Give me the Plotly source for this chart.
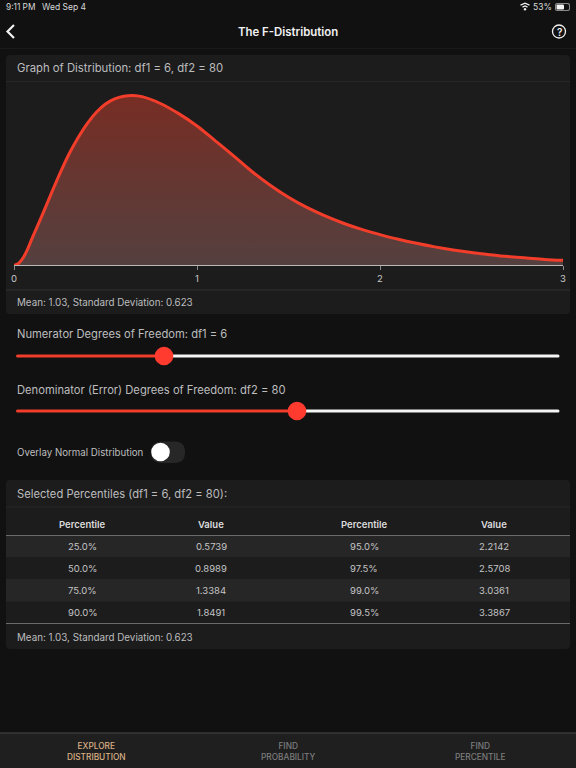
import plotly.graph_objects as go

W, H = 576, 768

# density curve
f_x = [0, 0.025, 0.05, 0.075, 0.1, 0.15, 0.2, 0.25, 0.3, 0.35, 0.4, 0.45, 0.5, 0.55, 0.6, 0.65, 0.7, 0.8, 0.9, 1.0,
       1.1, 1.2, 1.3, 1.4, 1.5, 1.6, 1.7, 1.8, 1.9, 2.0, 2.1, 2.2, 2.3, 2.4, 2.5, 2.6, 2.7, 2.8, 2.9, 3.0]
f_y = [0, 0.008, 0.032, 0.070, 0.116, 0.205, 0.297, 0.387, 0.470, 0.540, 0.600, 0.648, 0.683, 0.705, 0.716, 0.719,
       0.714, 0.685, 0.642, 0.590, 0.527, 0.463, 0.397, 0.339, 0.288, 0.245, 0.209, 0.178, 0.152, 0.130, 0.110,
       0.093, 0.078, 0.065, 0.054, 0.045, 0.037, 0.031, 0.025, 0.021]
x_ticks = [0, 1, 2, 3]

# percentile table
pct_left = ['25.0%', '50.0%', '75.0%', '90.0%']
val_left = ['0.5739', '0.8989', '1.3384', '1.8491']
pct_right = ['95.0%', '97.5%', '99.0%', '99.5%']
val_right = ['2.2142', '2.5708', '3.0361', '3.3867']
table_head = ['Percentile', 'Value', 'Percentile', 'Value']

tab_labels = ['EXPLORE<br>DISTRIBUTION', 'FIND<br>PROBABILITY', 'FIND<br>PERCENTILE']

PAGE = '#111112'
CARD = '#1c1c1d'
BAND = '#262627'
RED = '#f23d2b'
FONT = 'Inter'
TEXT_X = 16.3


def px(x):
    return x / W


def py(y):
    return 1 - y / H


shapes = []
annotations = []


def rect(x0, y0, x1, y1, color, layer='below'):
    shapes.append(dict(type='rect', xref='paper', yref='paper', x0=px(x0), x1=px(x1), y0=py(y0), y1=py(y1),
                       fillcolor=color, line_width=0, layer=layer))


def round_rect(x0, y0, x1, y1, r, color, layer='below'):
    pts = [f'M{px(x0 + r)},{py(y0)}', f'L{px(x1 - r)},{py(y0)}', f'Q{px(x1)},{py(y0)} {px(x1)},{py(y0 + r)}',
           f'L{px(x1)},{py(y1 - r)}', f'Q{px(x1)},{py(y1)} {px(x1 - r)},{py(y1)}',
           f'L{px(x0 + r)},{py(y1)}', f'Q{px(x0)},{py(y1)} {px(x0)},{py(y1 - r)}',
           f'L{px(x0)},{py(y0 + r)}', f'Q{px(x0)},{py(y0)} {px(x0 + r)},{py(y0)}', 'Z']
    shapes.append(dict(type='path', xref='paper', yref='paper', path=' '.join(pts),
                       fillcolor=color, line_width=0, layer=layer))


def hline(x0, x1, y, color, width=1):
    shapes.append(dict(type='line', xref='paper', yref='paper', x0=px(x0), x1=px(x1), y0=py(y), y1=py(y),
                       line=dict(color=color, width=width), layer='below'))


def dot(cx, cy, r, color, line=None):
    shapes.append(dict(type='circle', xref='paper', yref='paper', x0=px(cx - r), x1=px(cx + r),
                       y0=py(cy - r), y1=py(cy + r), fillcolor=color,
                       line=dict(color=line or color, width=1.5 if line else 0), layer='above'))


def stroke(points, color, width):
    path = 'M' + ' L'.join(f'{px(a)},{py(b)}' for a, b in points)
    shapes.append(dict(type='path', xref='paper', yref='paper', path=path,
                       line=dict(color=color, width=width), layer='above'))


def label(x, y, text, size=10.5, color='#c4c4c4', anchor='left', weight=400, family=FONT):
    annotations.append(dict(xref='paper', yref='paper', x=px(x), y=py(y), text=text, showarrow=False,
                            xanchor=anchor, yanchor='middle', borderpad=0, align='center',
                            font=dict(family=family, size=size, color=color, weight=weight)))


# cards
round_rect(6, 55, 570, 314, 4, CARD)
round_rect(6, 480, 570, 649, 4, CARD)
hline(6, 570, 81.5, '#272728')
hline(6, 570, 290, '#303031')
hline(6, 570, 507, '#272728')

# status bar and nav
label(4.5, 7, '9:11 PM', 8.3, '#d8d8d8')
label(41, 7, 'Wed Sep 4', 8.5, '#d8d8d8')
label(532, 7, '53%', 8.5, '#d8d8d8')
round_rect(555, 3, 570, 11, 2, '#8a8a8a', 'above')
round_rect(556, 4, 569, 10, 1.5, PAGE, 'above')
round_rect(556.5, 4.5, 564, 9.5, 1, '#f4f4f4', 'above')
stroke([(520.5, 5.2), (525, 3.2), (529.5, 5.2)], '#eeeeee', 1.3)
stroke([(522.5, 7.2), (525, 6), (527.5, 7.2)], '#eeeeee', 1.3)
dot(525, 9.3, 1.2, '#eeeeee')
hline(0, 576, 48.5, '#1a1a1b')

label(288, 31.5, 'The F-Distribution', 11.4, '#f2f2f2', 'center', 600)
stroke([(14, 25), (7.5, 31.5), (14, 38)], '#f2f2f2', 2.2)
shapes.append(dict(type='circle', xref='paper', yref='paper', x0=px(552.5), x1=px(565.5), y0=py(25), y1=py(38),
                   line=dict(color='#f2f2f2', width=1.3), layer='above'))
label(559, 31.5, '?', 10, '#f2f2f2', 'center', 600)

# card 1 text
label(TEXT_X, 68, 'Graph of Distribution: df1 = 6, df2 = 80', 11.3, '#bdbdbd')
label(TEXT_X, 302, 'Mean: 1.03, Standard Deviation: 0.623', 9.8, '#bdbdbd')

# sliders
label(TEXT_X, 334, 'Numerator Degrees of Freedom: df1 = 6', 11.2, '#bdbdbd')
label(TEXT_X, 390, 'Denominator (Error) Degrees of Freedom: df2 = 80', 11.2, '#bdbdbd')
for ty, tx in [(356, 164), (411, 297)]:
    round_rect(16, ty - 1.5, tx, ty + 1.5, 1.5, RED, 'above')
    round_rect(tx, ty - 1.5, 559.5, ty + 1.5, 1.5, '#f5f5f5', 'above')
    dot(tx, ty, 9.3, '#ff3b30')

# toggle
label(TEXT_X, 452, 'Overlay Normal Distribution', 9.7, '#bdbdbd')
round_rect(151, 441.5, 185, 463, 10.5, '#272728')
dot(160.5, 452, 9.3, '#ffffff')

# percentile card
label(TEXT_X, 494, 'Selected Percentiles (df1 = 6, df2 = 80):', 11.2, '#bdbdbd')
rect(6, 536, 570, 557, BAND)
rect(6, 579, 570, 601.5, BAND)
hline(6, 570, 535.5, '#6a6a6a', 1)
hline(6, 570, 623.5, '#6a6a6a', 1)
col_x = [82, 211, 364, 494]
row_y = [546, 568, 590, 612]
for cx, head in zip(col_x, table_head):
    label(cx, 524, head, 9.5, '#dcdcdc', 'center', 600)
for cx, col in zip(col_x, [pct_left, val_left, pct_right, val_right]):
    for ry, txt in zip(row_y, col):
        label(cx, ry, txt, 9.5, '#c4c4c4', 'center')
label(TEXT_X, 637, 'Mean: 1.03, Standard Deviation: 0.623', 9.8, '#bdbdbd')

# tab bar
rect(0, 733, 576, 768, '#1f1f20')
hline(0, 576, 733, '#48484a', 1)
for cx, txt, c in zip([96, 288, 480], tab_labels, ['#d9b083', '#7c7c7c', '#7c7c7c']):
    label(cx, 751, txt, 8.3, c, 'center', 500)

fig = go.Figure()
fig.add_trace(go.Scatter(
    x=f_x,
    y=f_y,
    mode='lines',
    line=dict(color=RED, width=3, shape='spline', smoothing=1),
    fill='tozeroy',
    fillgradient=dict(type='vertical', colorscale=[[0, '#54403f'], [1, '#772d24']]),
    cliponaxis=False,
    hoverinfo='skip',
    showlegend=False
))

fig.update_layout(
    width=W,
    height=H,
    margin=dict(l=0, r=0, t=0, b=0, autoexpand=False),
    paper_bgcolor=PAGE,
    plot_bgcolor='rgba(0,0,0,0)',
    showlegend=False,
    shapes=shapes,
    annotations=annotations,
    xaxis=dict(domain=[px(14), px(563)], range=[0, 3], tickvals=x_ticks, showgrid=False, zeroline=False,
               automargin=False, showline=True, linecolor='#b8b8b8', linewidth=1, ticks='outside', ticklen=4,
               tickwidth=1, tickcolor='#8a8a8a', tickfont=dict(family=FONT, size=9.5, color='#c8c8c8')),
    yaxis=dict(domain=[py(265.3), py(82)], range=[0, 0.776], visible=False, showgrid=False, zeroline=False,
               automargin=False)
)

fig.write_html('out.html', config=dict(displayModeBar=False),
               post_script="document.body.style.margin='0';document.body.style.background='#111112';")
